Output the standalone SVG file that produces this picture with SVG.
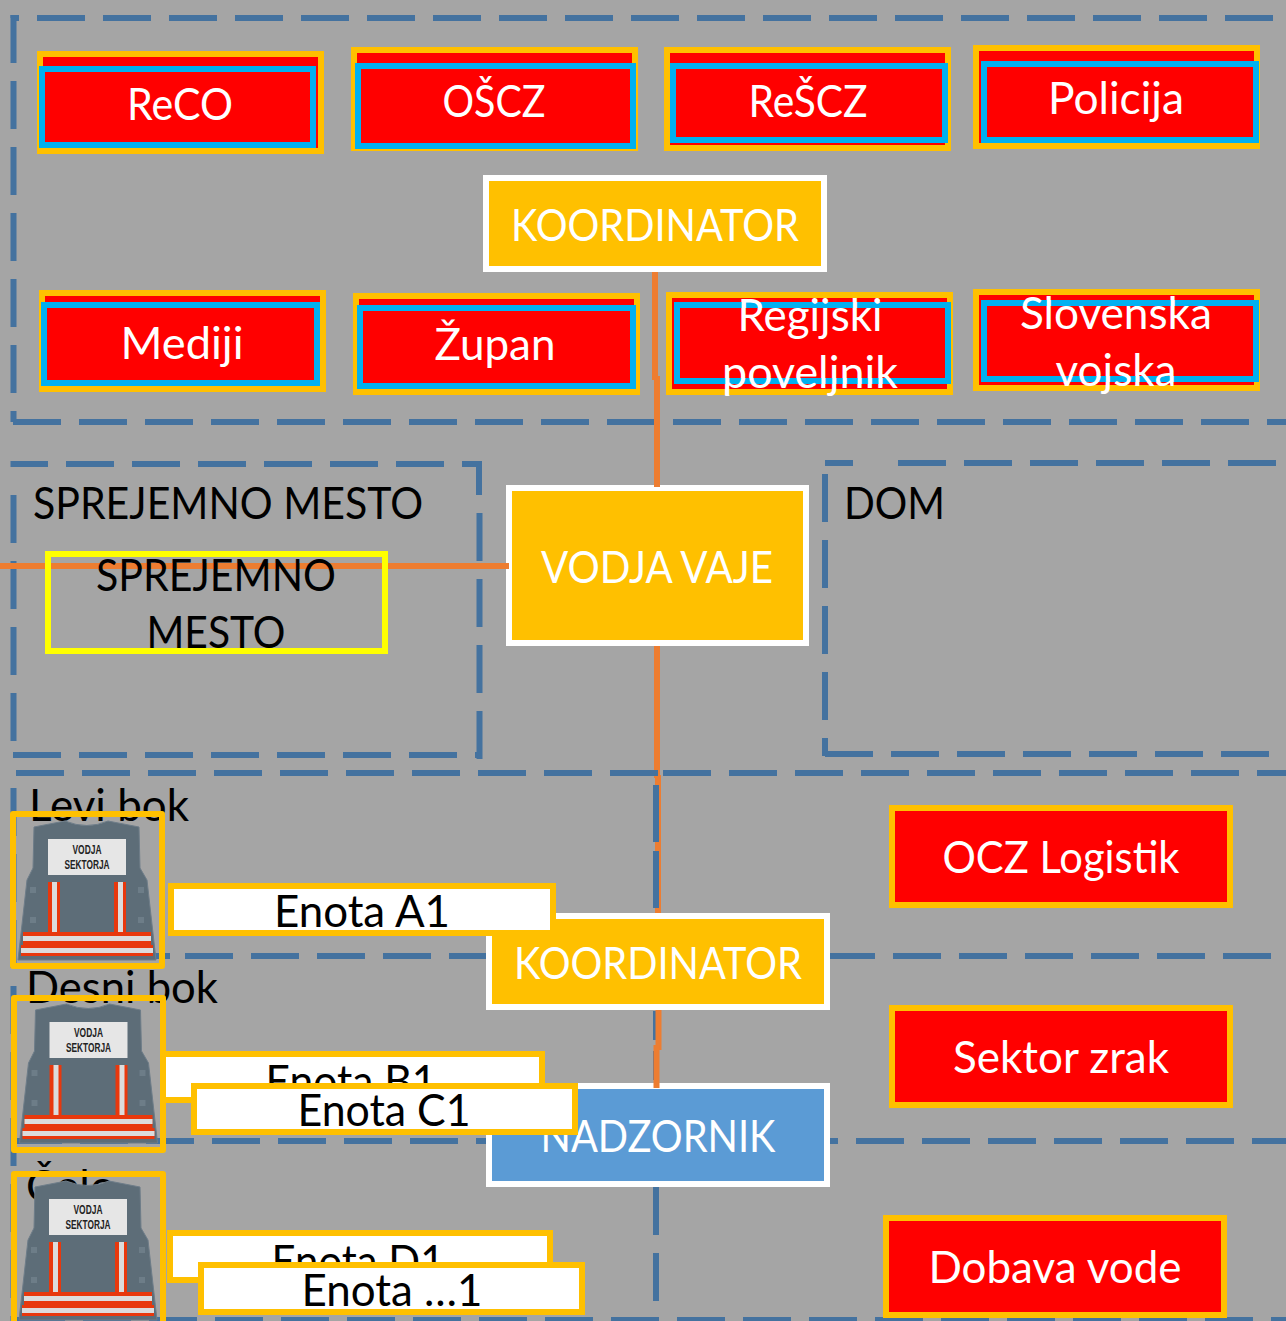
<svg xmlns="http://www.w3.org/2000/svg" width="1286" height="1321" viewBox="0 0 1286 1321">
<style>
text{font-family:"Lato","Liberation Sans",sans-serif;font-size:45px;text-anchor:middle}
.w{fill:#fff}.k{fill:#000}.l{text-anchor:start}
.d{fill:none;stroke:#44729f;stroke-width:6;stroke-dasharray:48 18}
.s{fill:none;stroke:#44729f;stroke-width:6}
.o{fill:none;stroke:#ed7d31;stroke-width:6}
.rd{fill:#f00;stroke:#ffc000;stroke-width:6}
.cy{fill:none;stroke:#00b0f0;stroke-width:6}
.am{fill:#ffc000;stroke:#fff;stroke-width:6}
.bl{fill:#5b9bd5;stroke:#fff;stroke-width:6}
.en{fill:#fff;stroke:#ffc000;stroke-width:6}
.vb{fill:none;stroke:#ffc000;stroke-width:6;stroke-linejoin:round}
.vt{font-family:"Liberation Sans",sans-serif;font-size:12px;font-weight:bold;fill:#222}
</style>
<defs>
<g id="vest">
<path d="M34 827L65 821Q87 830 108 821L139 827L140 868L147 880L156 960H18L27 880L33 868Z" fill="#5d6d78" stroke="#6e7d89" stroke-width="1"/>
<rect x="48" y="839" width="78" height="36" fill="#e6e6e6"/>
<text class="vt" x="87" y="854" textLength="29" lengthAdjust="spacingAndGlyphs">VODJA</text>
<text class="vt" x="87" y="869" textLength="45" lengthAdjust="spacingAndGlyphs">SEKTORJA</text>
<g fill="#e8380d">
<rect x="48" y="882" width="12" height="50"/><rect x="114" y="882" width="12" height="50"/>
<rect x="23" y="932" width="128" height="13"/><rect x="21" y="945" width="132" height="11"/>
</g>
<g fill="#dcdcdc">
<rect x="52" y="882" width="5" height="50"/><rect x="118" y="882" width="5" height="50"/>
<rect x="23" y="936" width="128" height="5"/><rect x="21" y="948" width="132" height="5"/>
</g>
<g fill="#6d7d88"><rect x="30" y="887" width="6" height="6"/><rect x="138" y="887" width="6" height="6"/><rect x="30" y="917" width="6" height="6"/><rect x="138" y="917" width="6" height="6"/></g>
</g>
</defs>
<rect width="1286" height="1321" fill="#a5a5a5"/>
<text class="k" x="1098" y="-7" style="text-anchor:start">(</text>
<text class="k" x="1260" y="-7">)</text>
<g id="zones">
<path class="s" d="M13.500 18H19M13.500 15V18"/>
<path class="d" d="M37 18H1273"/>
<path class="d" d="M13.500 15V422"/>
<path class="d" d="M13 422H1286"/>
<path class="s" d="M13.500 461V467M11 464H48"/>
<path class="d" d="M66 464H462"/>
<path class="s" d="M462 464H479V495"/>
<path class="d" d="M13.500 495V741"/>
<path class="d" d="M479.500 513V759"/>
<path class="d" d="M13 755H477"/>
<path class="s" d="M825 463H853"/>
<path class="d" d="M898 463H1286"/>
<path class="d" d="M825 474V756"/>
<path class="d" d="M825 754H1286"/>
</g>
<g id="lanes">
<path class="d" d="M185 956H490"/>
<path class="d" d="M19 956H170"/>
<path class="s" d="M830 956H875"/>
<path class="d" d="M893 956H1273"/>
<path class="d" d="M212 1141H490"/>
<path class="d" d="M14 1141H194"/>
<path class="s" d="M830 1141H838"/>
<path class="d" d="M856 1141H1286"/>
<path class="d" d="M17 1320H1286"/>
<path class="d" d="M13.500 788V1321"/>
<path class="s" style="stroke-dasharray:29 11;stroke-width:3" d="M654.500 1011V1083"/>
<path class="d" d="M656 1187V1321"/>
</g>
<g id="vodja"><rect class="am" x="509" y="488" width="297" height="155"/><text class="w" x="657" y="583" textLength="232" lengthAdjust="spacingAndGlyphs">VODJA VAJE</text></g>
<g id="nadzornik"><rect class="bl" x="489" y="1086" width="338" height="98"/><text class="w" x="658" y="1152" textLength="235" lengthAdjust="spacingAndGlyphs">NADZORNIK</text></g>
<g id="connectors">
<path class="o" d="M655 272V380"/>
<path class="o" d="M657 376V487"/>
<path class="o" d="M0 566H509"/>
<path class="o" d="M657 646V778"/>
<path class="o" d="M658 775V913"/>
<path class="o" d="M658.500 1010V1050"/>
<path class="o" d="M656.500 1045V1088"/>
</g>
<g id="lanes-top">
<path class="d" d="M16 773H660"/>
<path class="d" d="M663 773H1286"/>
<path class="s" style="stroke-dasharray:57 9" d="M656 785V908"/>
</g>
<text class="k l" x="29" y="821" textLength="160" lengthAdjust="spacingAndGlyphs">Levi bok</text>
<text class="k l" x="26" y="1003" textLength="192" lengthAdjust="spacingAndGlyphs">Desni bok</text>
<text class="k l" x="26" y="1202">Čelo</text>

<g id="reco"><rect class="rd" x="40" y="54" width="281" height="97"/><rect class="cy" x="42" y="69" width="271" height="76"/><text class="w" x="180" y="120" textLength="106" lengthAdjust="spacingAndGlyphs">ReCO</text></g>
<g id="oscz"><rect class="rd" x="354" y="50" width="281" height="98"/><rect class="cy" x="358" y="66" width="275" height="80"/><text class="w" x="494" y="117" textLength="103" lengthAdjust="spacingAndGlyphs">OŠCZ</text></g>
<g id="rescz"><rect class="rd" x="667" y="50" width="281" height="98"/><rect class="cy" x="673" y="66" width="272" height="74"/><text class="w" x="808" y="117" textLength="119" lengthAdjust="spacingAndGlyphs">ReŠCZ</text></g>
<g id="policija"><rect class="rd" x="976" y="48" width="281" height="98"/><rect class="cy" x="984" y="64" width="272" height="76"/><text class="w" x="1116" y="114" textLength="136" lengthAdjust="spacingAndGlyphs">Policija</text></g>
<g id="koordinator1"><rect class="am" x="486" y="178" width="338" height="91"/><text class="w" x="655" y="241" textLength="288" lengthAdjust="spacingAndGlyphs">KOORDINATOR</text></g>
<g id="mediji"><rect class="rd" x="42" y="293" width="281" height="96"/><rect class="cy" x="44" y="305" width="273" height="78"/><text class="w" x="182" y="359" textLength="123" lengthAdjust="spacingAndGlyphs">Mediji</text></g>
<g id="zupan"><rect class="rd" x="356" y="296" width="281" height="96"/><rect class="cy" x="360" y="308" width="273" height="78"/><text class="w" x="495" y="360" textLength="121" lengthAdjust="spacingAndGlyphs">Župan</text></g>
<g id="regijski"><rect class="rd" x="669" y="295" width="281" height="97"/><rect class="cy" x="677" y="305" width="271" height="76"/><text class="w" x="810" y="331" textLength="145" lengthAdjust="spacingAndGlyphs">Regijski</text><text class="w" x="810" y="388" textLength="176" lengthAdjust="spacingAndGlyphs">poveljnik</text></g>
<g id="slovenska"><rect class="rd" x="976" y="292" width="281" height="96"/><rect class="cy" x="984" y="303" width="272" height="76"/><text class="w" x="1116" y="329" textLength="192" lengthAdjust="spacingAndGlyphs">Slovenska</text><text class="w" x="1116" y="386" textLength="121" lengthAdjust="spacingAndGlyphs">vojska</text></g>
<text class="k l" x="33" y="519" textLength="390" lengthAdjust="spacingAndGlyphs">SPREJEMNO MESTO</text>
<text class="k l" x="844" y="519" textLength="101" lengthAdjust="spacingAndGlyphs">DOM</text>
<g id="sprejemno"><rect x="48" y="554" width="337" height="97" fill="none" stroke="#ff0" stroke-width="6"/><text class="k" x="216" y="591" textLength="240" lengthAdjust="spacingAndGlyphs">SPREJEMNO</text><text class="k" x="216" y="648" textLength="139" lengthAdjust="spacingAndGlyphs">MESTO</text></g>
<g id="ocz"><rect class="rd" x="892" y="808" width="338" height="97"/><text class="w" x="1061" y="873" textLength="237" lengthAdjust="spacingAndGlyphs">OCZ Logistik</text></g>
<g id="zrak"><rect class="rd" x="892" y="1008" width="338" height="97"/><text class="w" x="1061" y="1073" textLength="216" lengthAdjust="spacingAndGlyphs">Sektor zrak</text></g>
<g id="voda"><rect class="rd" x="886" y="1218" width="338" height="97"/><text class="w" x="1055" y="1283" textLength="253" lengthAdjust="spacingAndGlyphs">Dobava vode</text></g>
<g id="koordinator2"><rect class="am" x="489" y="916" width="338" height="91"/><text class="w" x="658" y="979" textLength="288" lengthAdjust="spacingAndGlyphs">KOORDINATOR</text></g>
<g id="vest1"><use href="#vest"/><rect class="vb" x="13" y="814" width="149" height="152"/></g>
<g id="vest2"><use href="#vest" x="1.500" y="183"/><rect class="vb" x="14" y="998" width="149" height="152"/></g>
<g id="vest3"><use href="#vest" x="1" y="360"/><rect class="vb" x="14" y="1174" width="149" height="160"/></g>
<g id="enotaA1"><rect class="en" x="171" y="886" width="382" height="47"/><text class="k" x="362" y="927" textLength="176" lengthAdjust="spacingAndGlyphs">Enota A1</text></g>
<g id="enotaB1"><rect class="en" x="163" y="1054" width="379" height="46"/><text class="k" x="351" y="1097" textLength="171" lengthAdjust="spacingAndGlyphs">Enota B1</text></g>
<g id="enotaC1"><rect class="en" x="194" y="1086" width="381" height="46"/><text class="k" x="384" y="1126" textLength="173" lengthAdjust="spacingAndGlyphs">Enota C1</text></g>
<g id="enotaD1"><rect class="en" x="170" y="1233" width="380" height="47"/><text class="k" x="358" y="1277" textLength="173" lengthAdjust="spacingAndGlyphs">Enota D1</text></g>
<g id="enota1"><rect class="en" x="201" y="1265" width="381" height="47"/><text class="k" x="392" y="1306" textLength="181" lengthAdjust="spacingAndGlyphs">Enota …1</text></g>
</svg>
